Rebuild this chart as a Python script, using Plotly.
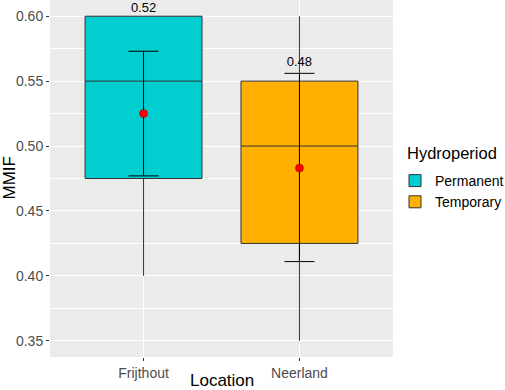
import plotly.graph_objects as go

locations = ["Frijthout", "Neerland"]
hydroperiod = ["Permanent", "Temporary"]
q1 = [0.475, 0.425]
median = [0.55, 0.50]
q3 = [0.60, 0.55]
lower_whisker = [0.40, 0.35]
upper_whisker = [0.60, 0.60]
mean_vals = [0.525, 0.483]
err_low = [0.477, 0.411]
err_high = [0.573, 0.556]
mean_labels = ["0.52", "0.48"]
label_y = [0.6055, 0.5638]
fill_colors = ["#00CED1", "#FFB000"]

FONT = "Liberation Sans, Arial, sans-serif"

fig = go.Figure()
for i in range(2):
    fig.add_trace(go.Box(
        x=[locations[i]], q1=[q1[i]], median=[median[i]], q3=[q3[i]],
        lowerfence=[lower_whisker[i]], upperfence=[upper_whisker[i]],
        name=hydroperiod[i], fillcolor=fill_colors[i],
        line=dict(color="#333333", width=1), whiskerwidth=0,
        width=0.75, boxpoints=False, hoverinfo="skip",
    ))

fig.add_trace(go.Scatter(
    x=locations, y=mean_vals, mode="markers",
    marker=dict(color="red", size=8, line=dict(color="#8B0000", width=0.5)),
    error_y=dict(type="data", symmetric=False,
                 array=[h - m for h, m in zip(err_high, mean_vals)],
                 arrayminus=[m - l for m, l in zip(mean_vals, err_low)],
                 color="black", thickness=1, width=15),
    showlegend=False, hoverinfo="skip",
))

fig.add_trace(go.Scatter(
    x=locations, y=label_y, mode="text", text=mean_labels,
    textfont=dict(family=FONT, size=13, color="black"),
    showlegend=False, hoverinfo="skip",
))

fig.update_layout(
    width=505, height=390,
    margin=dict(l=50, r=112, t=0, b=33, autoexpand=False),
    paper_bgcolor="white", plot_bgcolor="#EBEBEB",
    font=dict(family=FONT, color="black"),
    boxmode="overlay",
    legend=dict(
        font=dict(size=14, color="black"),
        x=(395 - 50) / 343, xanchor="left", y=1 - 165 / 357, yanchor="top",
        bgcolor="rgba(0,0,0,0)", itemwidth=30, tracegroupgap=0,
    ),
    xaxis=dict(
        type="category", categoryorder="array", categoryarray=locations,
        range=[-0.6, 1.6], showgrid=True, gridcolor="white", gridwidth=1.1,
        ticks="outside", ticklen=3, tickcolor="#333333",
        tickfont=dict(size=14, color="#4D4D4D"),
        zeroline=False, showline=False, automargin=False,
    ),
    yaxis=dict(
        range=[0.3375, 0.6125], tickvals=[0.35, 0.40, 0.45, 0.50, 0.55, 0.60],
        ticktext=["0.35", "0.40", "0.45", "0.50", "0.55", "0.60"],
        showgrid=True, gridcolor="white", gridwidth=1.1,
        minor=dict(tickvals=[0.375, 0.425, 0.475, 0.525, 0.575], showgrid=True,
                   gridcolor="white", gridwidth=0.5, ticks=""),
        ticks="outside", ticklen=3, tickcolor="#333333",
        tickfont=dict(size=14, color="#4D4D4D"),
        zeroline=False, showline=False, automargin=False,
    ),
    annotations=[
        dict(text="Location", xref="paper", yref="paper", x=0.5, y=0,
             yshift=-23, xanchor="center", yanchor="middle", showarrow=False,
             font=dict(size=17, color="black")),
        dict(text="MMIF", xref="paper", yref="paper", x=0, y=0.5,
             xshift=-41, xanchor="center", yanchor="middle", showarrow=False,
             textangle=-90, font=dict(size=17, color="black")),
        dict(text="Hydroperiod", xref="paper", yref="paper",
             x=(405 - 50) / 343, y=1 - 153 / 357, xanchor="left", yanchor="middle",
             showarrow=False, font=dict(size=16.5, color="black")),
    ],
)

fig.write_html("out.html", config={"displayModeBar": False},
               post_script="document.body.style.margin='0';document.body.style.overflow='hidden';")
